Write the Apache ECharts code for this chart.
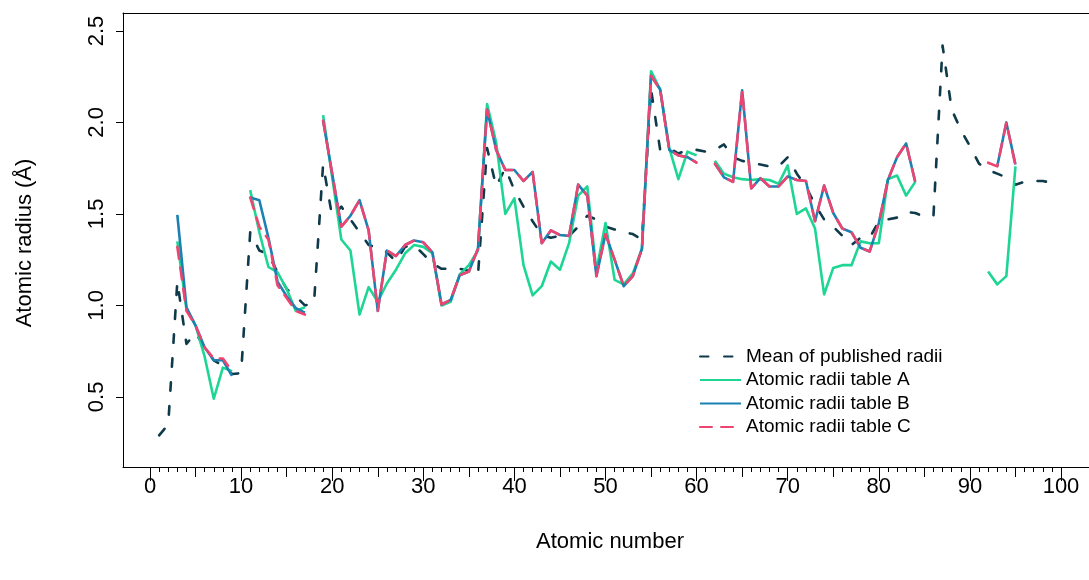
<!DOCTYPE html>
<html>
<head>
<meta charset="utf-8">
<script src="https://cdn.jsdelivr.net/npm/echarts@6/dist/echarts.min.js"></script>
<style>
html,body{margin:0;padding:0;background:#fff;}
#chart{width:1089px;height:580px;}
</style>
</head>
<body>
<div id="chart"></div>
<script>
// Atomic numbers 1..100
const atomicNumbers = Array.from({length: 100}, (_, i) => i + 1);

const meanRadii = [0.29,0.35,1.13,0.79,0.85,0.77,0.70,0.67,0.625,0.63,
1.40,1.30,1.28,1.18,1.09,1.05,1.00,1.01,1.77,1.485,
1.54,1.47,1.40,1.33,1.315,1.29,1.24,1.32,1.33,1.28,
1.23,1.20,1.20,1.20,1.19,1.165,1.86,1.65,1.75,1.63,
1.54,1.46,1.385,1.37,1.38,1.38,1.43,1.49,1.47,1.43,
1.415,1.40,1.39,1.36,2.18,1.85,1.86,1.83,1.85,1.85,
1.84,1.85,1.88,1.81,1.79,1.78,1.77,1.76,1.76,1.81,
1.72,1.65,1.55,1.47,1.43,1.38,1.33,1.37,1.37,1.46,
1.47,1.48,1.51,1.505,1.485,1.49,2.42,2.07,1.96,1.87,
1.775,1.74,1.72,1.70,1.66,1.675,1.68,1.68,1.67,1.67];

const tableA = [null,null,1.35,0.98,0.89,0.72,0.49,0.66,0.64,null,
1.63,1.40,1.21,1.18,1.09,0.97,0.99,null,2.04,1.70,
1.36,1.30,0.95,1.10,1.02,1.12,1.195,1.285,1.33,1.32,
1.285,1.00,1.02,1.17,1.22,1.30,2.10,1.89,1.50,1.585,
1.22,1.055,1.105,1.24,1.195,1.34,1.60,1.65,1.19,1.45,
1.14,1.115,1.175,1.31,2.28,2.18,1.86,1.69,1.84,1.82,
null,1.79,1.72,1.70,1.69,1.685,1.69,1.685,1.665,1.765,
1.50,1.53,1.42,1.06,1.205,1.22,1.22,1.35,1.34,1.34,
1.69,1.71,1.60,1.675,null,null,null,null,null,null,
null,1.185,1.115,1.16,1.76,null,null,null,null,null];

const tableB = [null,null,1.495,0.99,0.89,0.77,0.70,0.70,0.615,null,
1.59,1.575,1.37,1.13,1.05,0.985,0.96,null,2.01,1.72,
1.43,1.49,1.575,1.41,0.97,1.30,1.27,1.33,1.355,1.345,
1.29,1.005,1.03,1.165,1.185,1.31,2.07,1.85,1.74,1.74,
1.68,1.73,1.34,1.41,1.385,1.38,1.66,1.60,1.16,1.39,
1.25,1.105,1.16,1.31,2.255,2.18,1.85,1.82,1.81,1.78,
null,1.775,1.70,1.675,2.175,1.64,1.695,1.65,1.65,1.705,
1.685,1.68,1.46,1.655,1.505,1.42,1.40,1.315,1.295,1.45,
1.685,1.81,1.885,1.675,null,null,null,null,null,null,
null,null,1.76,2.00,1.77,null,null,null,null,null];

const tableC = [null,null,1.32,0.97,0.89,0.77,0.71,0.71,0.64,null,
1.59,1.43,1.36,1.11,1.04,0.97,0.95,null,2.01,1.72,
1.43,1.49,1.575,1.41,0.97,1.30,1.27,1.33,1.355,1.345,
1.29,1.005,1.03,1.165,1.185,1.31,2.07,1.85,1.74,1.74,
1.68,1.73,1.34,1.41,1.385,1.38,1.66,1.60,1.16,1.39,
1.25,1.105,1.16,1.31,2.255,2.18,1.85,1.82,1.81,1.78,
null,1.775,1.70,1.675,2.175,1.64,1.695,1.65,1.65,1.705,
1.685,1.68,1.46,1.655,1.505,1.42,1.40,1.315,1.295,1.45,
1.685,1.81,1.885,1.675,null,null,null,null,null,null,
null,1.78,1.76,2.00,1.765,null,null,null,null,null];

const xMajorTicks = [0,10,20,30,40,50,60,70,80,90,100];
const xMediumTicks = [5,15,25,35,45,55,65,75,85,95];
const xMinorTicks = atomicNumbers.filter(v => v % 5 !== 0);
const yTicks = [0.5,1.0,1.5,2.0,2.5];

const seriesNames = ['Mean of published radii','Atomic radii table A','Atomic radii table B','Atomic radii table C'];
const seriesValues = [meanRadii, tableA, tableB, tableC];
const seriesColors = ['#0E3A4A','#1DD693','#1B80B2','#EF4470'];
const seriesDash = [[8.5,15.5], 'solid', 'solid', [12,9]];

const FONT = 'Liberation Sans, Arial, Helvetica, sans-serif';
// plot box: left 123, top 13, bottom 467; x=0 at 150px, 9.11 px per unit
const GRID_LEFT = 123, GRID_TOP = 13, GRID_W = 966, GRID_H = 454;
const X_MIN = -2.964, X_MAX = X_MIN + GRID_W / 9.11;
const Y_MIN = 0.117, Y_MAX = 2.598;

function pairs(vals){
  return atomicNumbers.map((z,i) => [z, vals[i] == null ? '-' : vals[i]]);
}

function xAxisDef(ticks, len, withLabels, pos){
  return {
    type:'value', gridIndex:0, position:pos || 'bottom', min:X_MIN, max:X_MAX,
    axisLine:{show: withLabels || pos === 'top', onZero:false, lineStyle:{color:'#000', width:1}},
    splitLine:{show:false},
    axisTick: ticks ? {show:true, customValues:ticks, length:len, lineStyle:{color:'#000', width:1}} : {show:false},
    axisLabel: withLabels ? {show:true, customValues:ticks, margin:9, color:'#000', fontSize:22, fontFamily:FONT} : {show:false}
  };
}

const chart = echarts.init(document.getElementById('chart'), null, {renderer:'canvas'});
chart.setOption({
  animation:false,
  backgroundColor:'#fff',
  grid:[{left:GRID_LEFT, top:GRID_TOP, width:GRID_W, height:GRID_H, show:false, containLabel:false}],
  xAxis:[
    xAxisDef(xMajorTicks, 14, true),
    xAxisDef(xMediumTicks, 10, false),
    xAxisDef(xMinorTicks, 5, false),
    xAxisDef(null, 0, false, 'top')
  ],
  yAxis:[{
    type:'value', gridIndex:0, position:'left', min:Y_MIN, max:Y_MAX,
    axisLine:{show:true, onZero:false, lineStyle:{color:'#000', width:1}}, splitLine:{show:false},
    axisTick:{show:true, customValues:yTicks, length:7, lineStyle:{color:'#000', width:1}},
    axisLabel:{show:true, customValues:yTicks, rotate:90, margin:15, color:'#000', fontSize:22, fontFamily:FONT,
      formatter: v => Number(v).toFixed(1)}
  }],
  graphic:[
    {type:'text', x:610, y:542, style:{text:'Atomic number', fill:'#000', font:'22px ' + FONT, align:'center', verticalAlign:'middle'}},
    {type:'text', x:25, y:243, rotation:Math.PI/2, style:{text:'Atomic radius (Å)', fill:'#000', font:'22px ' + FONT, align:'center', verticalAlign:'middle'}}
  ],
  legend:{
    show:true, orient:'vertical', left:694, top:342,
    itemWidth:41, itemHeight:14, itemGap:4.5,
    itemStyle:{opacity:0, borderWidth:0},
    textStyle:{color:'#000', fontSize:19, fontFamily:FONT},
    data:seriesNames
  },
  series: seriesNames.map((name, k) => ({
    name, type:'line', xAxisIndex:0, yAxisIndex:0,
    data: pairs(seriesValues[k]),
    showSymbol:false, symbol:'none', connectNulls:false, clip:false,
    color: seriesColors[k],
    lineStyle:{color:seriesColors[k], width:2.6, type: seriesDash[k], cap: seriesDash[k] === 'solid' ? 'butt' : 'round', join:'round'},
    z: 2 + k
  }))
});
</script>
</body>
</html>
